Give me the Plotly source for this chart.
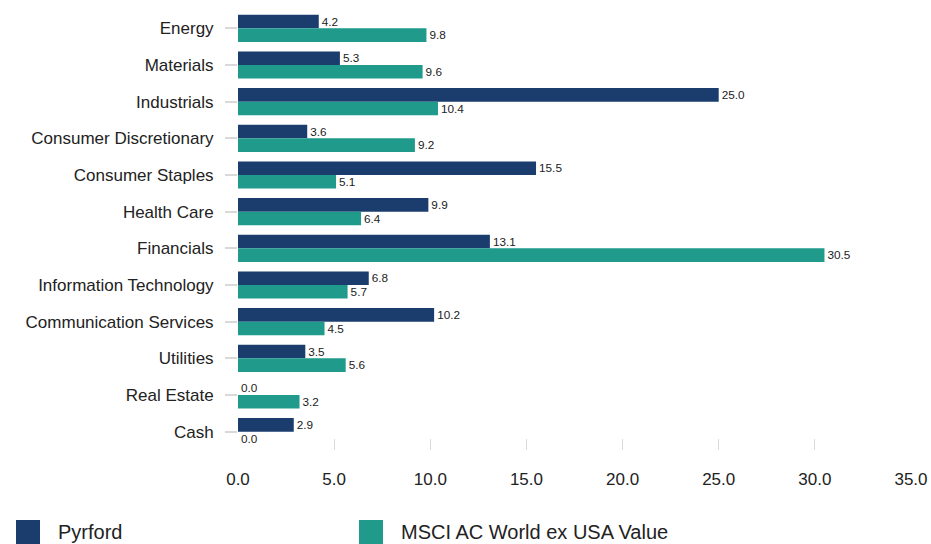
import plotly.graph_objects as go

categories = ["Energy", "Materials", "Industrials", "Consumer Discretionary", "Consumer Staples",
              "Health Care", "Financials", "Information Technology", "Communication Services",
              "Utilities", "Real Estate", "Cash"]
pyrford = [4.2, 5.3, 25.0, 3.6, 15.5, 9.9, 13.1, 6.8, 10.2, 3.5, 0.0, 2.9]
msci = [9.8, 9.6, 10.4, 9.2, 5.1, 6.4, 30.5, 5.7, 4.5, 5.6, 3.2, 0.0]
series_names = ["Pyrford", "MSCI AC World ex USA Value"]
x_ticks = [0, 5, 10, 15, 20, 25, 30, 35]

NAVY = "#1a3d6e"
TEAL = "#1f9a8b"
FONT = "Liberation Sans, Arial, sans-serif"
W, H = 931, 544
ML, MR, MT, MB = 238, 20, 10, 94
PW, PH = W - ML - MR, H - MT - MB

fig = go.Figure()
for name, vals, col in [(series_names[0], pyrford, NAVY), (series_names[1], msci, TEAL)]:
    fig.add_trace(go.Bar(
        y=categories, x=vals, name=name, orientation="h",
        marker=dict(color=col, line=dict(width=0)),
        text=[f"{v:.1f}" for v in vals], textposition="outside",
        textfont=dict(size=13, color="#222222", family=FONT),
        cliponaxis=False, showlegend=False,
    ))

fig.update_layout(
    width=W, height=H,
    margin=dict(l=ML, r=MR, t=MT, b=MB, autoexpand=False),
    barmode="group", bargap=0.26, bargroupgap=0,
    plot_bgcolor="white", paper_bgcolor="white",
    font=dict(family=FONT, color="#222222"),
    showlegend=False,
)
fig.update_xaxes(
    range=[0, 35], tickvals=x_ticks, ticktext=[f"{t:.1f}" for t in x_ticks],
    showgrid=False, zeroline=False, showline=False, automargin=False,
    ticks="inside", ticklen=11, tickwidth=1, tickcolor="#d9d9d9",
    tickfont=dict(size=17, color="#222222"), ticklabelstandoff=17,
)
fig.update_yaxes(
    autorange="reversed", showgrid=False, zeroline=False, showline=False, automargin=False,
    ticks="outside", ticklen=12, tickwidth=2, tickcolor="#d9d9d9",
    tickfont=dict(size=17, color="#222222"), ticklabelstandoff=8,
)

def px_x(x):
    return (x - ML) / PW

def px_y(y):
    return (H - MB - y) / PH

# legend drawn below the axis (page pixel coordinates)
for i, (name, col) in enumerate([(series_names[0], NAVY), (series_names[1], TEAL)]):
    x0 = 16 + i * 343
    fig.add_shape(type="rect", xref="paper", yref="paper",
                  x0=px_x(x0), x1=px_x(x0 + 24),
                  y0=px_y(546), y1=px_y(520),
                  fillcolor=col, line=dict(width=0))
    fig.add_annotation(xref="paper", yref="paper", x=px_x(x0 + 40),
                       y=px_y(519), text=name, showarrow=False,
                       xanchor="left", yanchor="top",
                       font=dict(size=20, color="#222222", family=FONT))

fig.write_html("out.html", config={"displayModeBar": False},
               post_script="document.body.style.margin='0';document.body.style.overflow='hidden';")
